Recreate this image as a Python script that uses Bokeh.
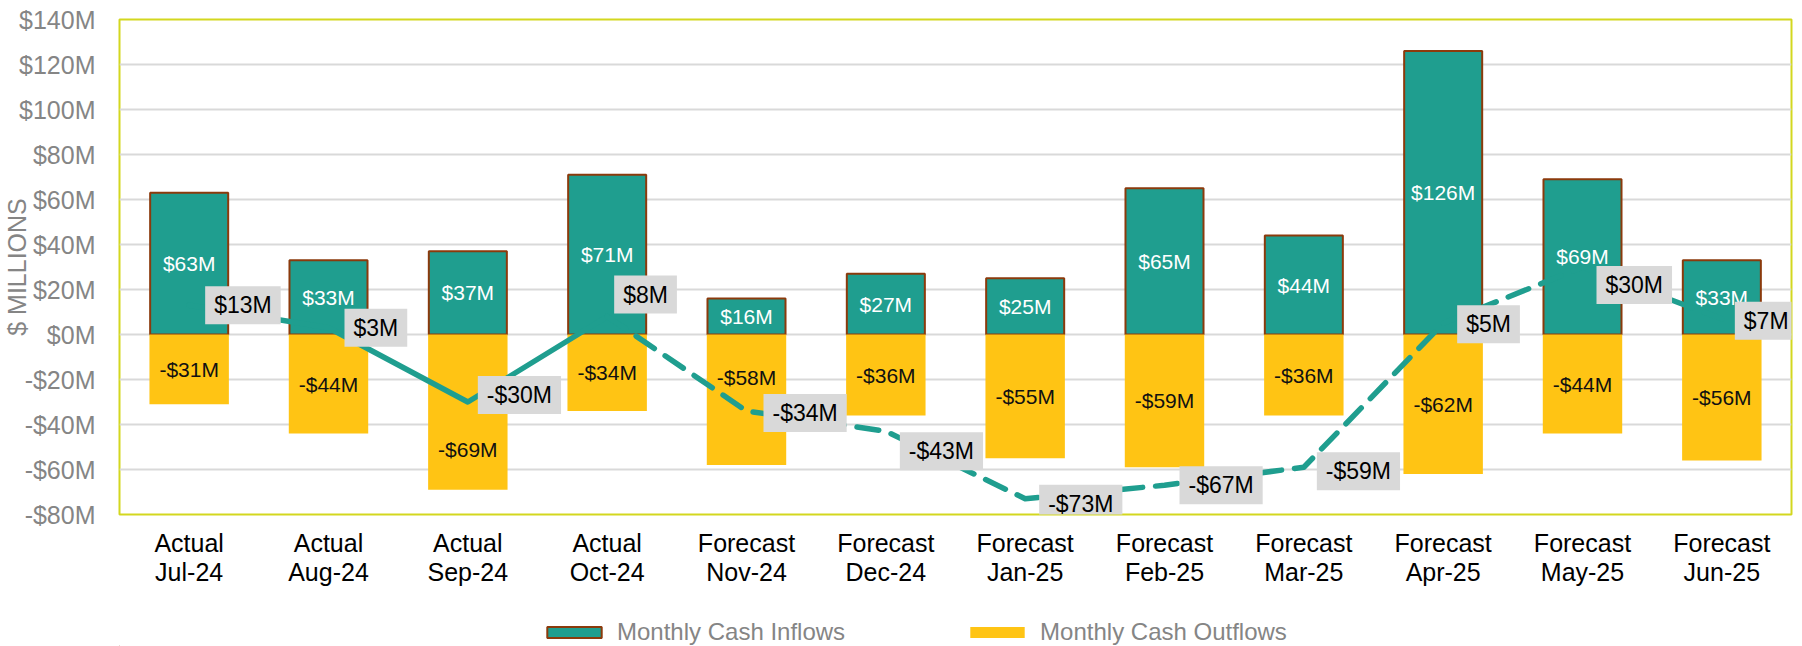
from bokeh.plotting import figure
from bokeh.layouts import column
from bokeh.models import ColumnDataSource, FactorRange, Range1d, FixedTicker, Legend, LegendItem
from bokeh.core.properties import value
from bokeh.embed import file_html
from bokeh.resources import INLINE

# ---------------- data ----------------
phases = ["Actual", "Actual", "Actual", "Actual", "Forecast", "Forecast",
          "Forecast", "Forecast", "Forecast", "Forecast", "Forecast", "Forecast"]
months = ["Jul-24", "Aug-24", "Sep-24", "Oct-24", "Nov-24", "Dec-24",
          "Jan-25", "Feb-25", "Mar-25", "Apr-25", "May-25", "Jun-25"]
inflows = [63, 33, 37, 71, 16, 27, 25, 65, 44, 126, 69, 33]
outflows = [-31, -44, -69, -34, -58, -36, -55, -59, -36, -62, -44, -56]
balance = [13, 3, -30, 8, -34, -43, -73, -67, -59, 5, 30, 7]
y_ticks = [-80, -60, -40, -20, 0, 20, 40, 60, 80, 100, 120, 140]
y_tick_labels = ["-$80M", "-$60M", "-$40M", "-$20M", "$0M", "$20M", "$40M",
                 "$60M", "$80M", "$100M", "$120M", "$140M"]
series_names = ["Monthly Cash Inflows", "Monthly Cash Outflows"]
n_actual = 4

# ---------------- style (label nudges in pixels) ----------------
bal_dx = [16, 16, 10, 7, 17, 14, 14, 15, 13, 14, 14, 13]
bal_dy = [0, 0, -7, -22, 2, 20, 5, 0, 4, 1, 18, 2]
out_dy = [0, 0, 37, 0, -22, 0, 0, 0, 0, 0, 0, 0]

TEAL = "#1f9e8f"
BROWN = "#8b3a0c"
YELLOW = "#ffc414"
GRID = "#d9d9d9"
BORDER = "#d3d71f"
GRAY = "#858585"
FONT = "Liberation Sans"


def money(v):
    return f"-${-v}M" if v < 0 else f"${v}M"


cats = [f"{p}\n{m}" for p, m in zip(phases, months)]

src = ColumnDataSource(dict(
    cat=cats,
    inflow=inflows,
    outflow=outflows,
    in_mid=[v / 2 for v in inflows],
    out_mid=[v / 2 for v in outflows],
    in_txt=[money(v) for v in inflows],
    out_txt=[money(v) for v in outflows],
    out_dy=out_dy,
    bal=balance,
    bal_txt=[money(v) for v in balance],
    bal_dx=bal_dx,
    bal_dy=bal_dy,
))

p = figure(x_range=FactorRange(*cats), y_range=Range1d(-80, 140),
           width=1802, height=600, output_backend="svg", toolbar_location=None,
           min_border_left=117, min_border_right=11, min_border_top=19,
           min_border_bottom=86)

p.background_fill_color = "white"
p.border_fill_color = "white"
p.outline_line_color = BORDER
p.outline_line_width = 2

p.xgrid.visible = False
p.ygrid.grid_line_color = GRID
p.ygrid.grid_line_width = 2

p.yaxis.ticker = FixedTicker(ticks=y_ticks)
p.yaxis.major_label_overrides = {t: l for t, l in zip(y_ticks, y_tick_labels)}
for ax in (p.xaxis[0], p.yaxis[0]):
    ax.axis_line_color = None
    ax.major_tick_line_color = None
    ax.minor_tick_line_color = None
    ax.major_label_text_font = FONT
    ax.major_label_text_font_size = "25px"
p.yaxis.major_label_text_color = GRAY
p.yaxis.major_label_standoff = 18
p.yaxis.axis_label = "$ MILLIONS"
p.yaxis.axis_label_text_font = FONT
p.yaxis.axis_label_text_font_size = "25px"
p.yaxis.axis_label_text_font_style = "normal"
p.yaxis.axis_label_text_color = GRAY
p.yaxis.axis_label_standoff = -15

p.xaxis.major_label_text_color = "#000000"
p.xaxis.major_label_standoff = 8
p.xaxis.major_label_text_line_height = 1.05

# bars
in_style = dict(fill_color=TEAL, line_color=BROWN, line_width=2)
out_style = dict(fill_color=YELLOW, line_color=None)
p.vbar(x="cat", top="inflow", bottom=0, width=0.56, source=src, **in_style)
p.vbar(x="cat", top=0, bottom="outflow", width=0.57, source=src, **out_style)

# balance line: actual solid, forecast dashed
p.line(x=cats[:n_actual], y=balance[:n_actual], line_color=TEAL, line_width=5.5,
       line_cap="round", line_join="round")
p.line(x=cats[n_actual - 1:], y=balance[n_actual - 1:], line_color=TEAL, line_width=5.5,
       line_dash="22 13", line_cap="round", line_join="round")

# bar labels
p.text(x="cat", y="in_mid", text="in_txt", source=src, text_color="white",
       text_font=value(FONT), text_font_size="21px", text_align="center",
       text_baseline="middle")
p.text(x="cat", y="out_mid", text="out_txt", source=src, y_offset="out_dy",
       text_color="#111111", text_font=value(FONT), text_font_size="21px",
       text_align="center", text_baseline="middle")

# balance labels
p.text(x="cat", y="bal", text="bal_txt", source=src, x_offset="bal_dx", y_offset="bal_dy",
       text_color="#000000", text_font=value(FONT), text_font_size="23px",
       text_align="left", text_baseline="middle",
       background_fill_color=GRID, padding=(9, 6))

# legend strip (separate small figure so the legend is not clipped)
lg = figure(width=1802, height=46, output_backend="svg", toolbar_location=None,
            x_axis_type=None, y_axis_type=None, x_range=Range1d(0, 1), y_range=Range1d(0, 1),
            min_border_left=0, min_border_right=0, min_border_top=0, min_border_bottom=0)
lg.outline_line_color = None
lg.grid.visible = False
lg.background_fill_color = "white"
lg.border_fill_color = "white"
# proxy renderers (kept outside the visible range) that only feed the legend swatches
r_in = lg.vbar(x=[-5], top=[-5], bottom=[-6], width=0.5, **in_style)
r_out = lg.vbar(x=[-5], top=[-5], bottom=[-6], width=0.5, **out_style)
leg = Legend(items=[LegendItem(label=series_names[0], renderers=[r_in]),
                    LegendItem(label=series_names[1], renderers=[r_out])],
             location=(421, 0), orientation="horizontal", border_line_color=None,
             background_fill_alpha=0, padding=0, margin=0, spacing=118,
             label_standoff=9, glyph_width=68, glyph_height=14, label_height=14,
             label_text_font=FONT, label_text_font_size="24px",
             label_text_color=GRAY, label_text_baseline="middle")
lg.add_layout(leg)

layout = column(p, lg, spacing=0)
open("out.html", "w").write(file_html(layout, INLINE))
